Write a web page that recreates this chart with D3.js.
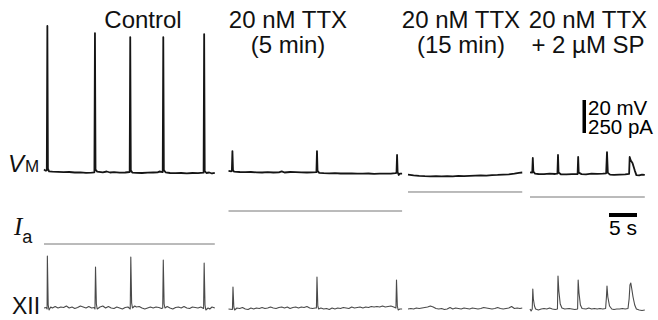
<!DOCTYPE html>
<html>
<head>
<meta charset="utf-8">
<script src="https://cdn.jsdelivr.net/npm/d3@7"></script>
<style>
  html, body { margin: 0; padding: 0; background: #fff; }
  svg { display: block; font-family: 'Liberation Sans', Arial, sans-serif; }
</style>
</head>
<body>
<div id="chart"></div>
<script>
// condition labels (one or two lines each)
const panelTitles = [
  ['Control'],
  ['20 nM TTX', '(5 min)'],
  ['20 nM TTX', '(15 min)'],
  ['20 nM TTX', '+ 2 \u00b5M SP'],
];

// sweep lengths, seconds
const panelDurations = [30.5, 31, 20.4, 20.5];

// holding current (Ia) per condition, pA relative to control
const holdingCurrent = [0, 250, 394, 356];

// membrane potential, [time s, mV]
const vmControl = [
  [0, -58.5], [0.3, -59.2], [0.5, -59.0], [0.6, 28.5], [0.7, -58.0], [0.9, -59.6],
  [1.5, -59.8], [2.5, -59.9], [3.5, -60.1], [4.5, -60.0], [5.5, -60.3], [6.5, -60.2],
  [7.5, -60.5], [8.5, -60.4], [9.0, -60.2], [9.1, 24.2], [9.2, -58.6], [9.5, -59.8],
  [10.5, -60.2], [11.2, -59.7], [11.8, -60.3], [12.5, -60.1], [13.5, -60.4], [14.5, -60.3],
  [15.3, -60.0], [15.4, 21.8], [15.5, -59.0], [15.8, -60.4], [16.5, -60.5], [17.5, -60.6],
  [18.5, -60.4], [19.5, -60.3], [20.3, -60.2], [20.6, -59.7], [21.2, -60.1], [21.3, 21.8],
  [21.4, -58.8], [21.7, -60.2], [22.5, -60.6], [23.5, -60.7], [24.5, -60.6], [25.5, -60.8],
  [26.5, -60.6], [27.5, -60.7], [28.5, -60.4], [28.6, 23.6], [28.7, -59.4], [29.0, -60.6],
  [29.5, -60.3], [30.0, -60.9], [30.5, -60.5],
];

const vmTtx5 = [
  [0, -59.3], [0.5, -59.6], [0.6, -59.4], [0.7, -47.3], [0.8, -59.0], [1.0, -59.8],
  [2, -60.0], [3, -60.1], [4, -60.0], [5, -60.2], [6, -60.3], [7, -60.1], [8, -60.3],
  [9, -60.2], [9.5, -59.6], [10, -60.3], [11, -60.0], [12, -60.1], [13, -60.2], [14, -60.3],
  [15, -60.2], [15.7, -60.1], [15.8, -47.3], [15.9, -59.3], [16.2, -60.5], [17, -60.7],
  [18, -60.8], [19, -60.7], [20, -60.9], [21, -60.8], [22, -60.9], [23, -61.0], [24, -61.0],
  [25, -60.9], [26, -61.1], [27, -61.0], [28, -61.0], [29, -61.0], [29.8, -60.7],
  [30.0, -60.5], [30.1, -49.7], [30.2, -60.0], [30.4, -61.8], [30.6, -61.0], [31, -61.0],
];

const vmTtx15 = [
  [0, -61.6], [1, -62.0], [2, -62.3], [3, -62.5], [4, -62.6], [5, -62.5], [6, -62.7],
  [7, -62.5], [8, -62.6], [9, -62.4], [10, -62.5], [11, -62.3], [12, -62.2], [13, -62.1],
  [14, -62.2], [15, -61.9], [16, -61.8], [17, -61.6], [18, -61.4], [19, -61.0],
  [19.8, -60.5], [20.4, -60.3],
];

const vmTtxSp = [
  [0, -60.2], [0.4, -60.4], [0.5, -51.5], [0.6, -59.8], [0.9, -61.0], [1.5, -61.2],
  [2.5, -61.3], [3.5, -61.0], [4.5, -61.2], [4.9, -61.0], [5.0, -49.7], [5.1, -60.3],
  [5.5, -61.4], [6.5, -61.5], [7.5, -61.3], [8.5, -61.2], [8.6, -50.9], [8.7, -60.4],
  [9.2, -61.3], [10, -61.4], [11, -61.0], [12, -61.1], [13, -61.0], [13.6, -60.8],
  [13.75, -47.9], [13.9, -60.5], [14.3, -61.6], [15, -61.7], [16, -61.6], [17, -61.5],
  [17.7, -61.2], [17.8, -50.9], [18.0, -53.0], [18.3, -54.5], [18.7, -59.0], [19.0, -61.9],
  [19.5, -62.0], [20, -61.6], [20.5, -61.8],
];

// hypoglossal nerve (XII) integrated activity, [time s, a.u.]
const xiiControl = [
  [0, 1], [0.4, 1.5], [0.55, 0], [0.6, 53], [0.75, 4], [0.9, -1], [1.2, 2], [1.5, 1],
  [2, 2.5], [2.5, 1], [3, 2], [3.5, 1.5], [4, 3], [4.5, 1], [5, 2], [5.5, 0.5], [6, 1.5],
  [6.5, 3], [7, 2], [7.5, 1], [8, 2.5], [8.5, 1], [9, 1.5], [9.1, 0], [9.2, 42], [9.35, 5],
  [9.5, 0], [10, 2], [10.5, 3], [11, 1], [11.5, 2.5], [12, 1], [12.5, 0.5], [13, 2],
  [13.5, 1], [14, 0], [14.5, 1.5], [15, 2], [15.4, 0], [15.5, 52], [15.65, 6], [15.8, 1],
  [16.2, 3], [16.5, 2], [17, 2.5], [17.5, 1], [18, 0], [18.5, 1], [19, 2], [19.5, 1],
  [20, 2], [20.5, 1.5], [21, 0.5], [21.2, 1], [21.3, 49], [21.45, 5], [21.6, 1], [22, 2.5],
  [22.5, 1], [23, 0], [23.5, 1.5], [24, 2], [24.5, 1], [25, 2.5], [25.5, 1], [26, 0.5],
  [26.5, 2], [27, 1.5], [27.5, 1], [28, 2], [28.5, 0.5], [28.6, 46], [28.75, 4],
  [28.9, -1], [29.3, 1], [29.6, 0], [30, 2], [30.5, 1],
];

const xiiTtx5 = [
  [0, 0], [0.7, -0.5], [0.8, 22], [0.95, 2], [1.1, -1], [1.5, 1], [2, 0.5], [2.5, 1.5],
  [3, 0], [3.5, -0.5], [4, 1], [4.5, 0], [5, 1], [5.5, 0.5], [6, 1.5], [6.5, 0.5], [7, 1],
  [7.5, 2], [8, 1], [8.5, 0.5], [9, 1.5], [9.5, 2], [10, 1], [10.5, 2], [11, 0.5],
  [11.5, 1.5], [12, 2], [12.5, 1], [13, 2], [13.5, 1.5], [14, 2.5], [14.5, 1], [15, 0.5],
  [15.5, 1], [15.7, 1], [15.8, 32], [15.95, 3], [16.1, 0], [16.5, 1], [17, 0], [17.5, 0.5],
  [18, -0.5], [18.5, 1], [19, 0], [19.5, 1], [20, 0.5], [20.5, 1.5], [21, 1], [21.5, 0.5],
  [22, 2], [22.5, 1], [23, 1.5], [23.5, 2], [24, 1], [24.5, 2], [25, 1.5], [25.5, 2.5],
  [26, 2], [26.5, 2.5], [27, 2], [27.5, 3], [28, 2], [28.5, 2.5], [29, 3], [29.5, 2],
  [29.9, 1], [30.0, 29], [30.15, 3], [30.3, -1], [30.6, 0], [31, 0],
];

const xiiTtx15 = [
  [0, 0], [0.5, 0.5], [1, 0], [1.5, 1], [2, 0.5], [2.5, 1], [3, 1.5], [3.5, 2], [4, 3],
  [4.5, 2], [5, 0.5], [5.5, 0], [6, 0.5], [6.5, -0.5], [7, 0], [7.5, 1.5], [8, 0],
  [8.5, 1], [9, 0.5], [9.5, 0], [10, 1], [10.5, 0.5], [11, 0], [11.5, 1], [12, 0.5],
  [12.5, 0], [13, 0.5], [13.5, 1.5], [14, 1], [14.5, 0.5], [15, 0], [15.5, 0.5],
  [16, 1.5], [16.5, 0.5], [17, 0], [17.5, 0.5], [18, 1], [18.5, 2.5], [19, 0.5],
  [19.5, 1], [20, 0.5], [20.4, 1],
];

const xiiTtxSp = [
  [0, 0], [0.2, -2], [0.4, 0], [0.5, 20], [0.6, 10], [0.8, 3], [1.0, 0], [1.5, -1],
  [2, 0], [2.5, 0.5], [3, 0], [3.5, 1], [4, 0], [4.5, -0.5], [4.9, 0], [5.0, 33],
  [5.15, 18], [5.4, 5], [5.7, 1], [6.2, 0], [7, 0.5], [7.5, 0], [8, -0.5], [8.5, 0],
  [8.6, 29], [8.75, 16], [9.0, 4], [9.3, 0.5], [10, 0], [10.5, 1], [11, 0], [11.5, 0.5],
  [12, 0], [12.5, 0.5], [13, 0], [13.5, 0.5], [13.65, 12], [13.75, 23], [13.9, 12],
  [14.2, 3], [14.6, 0], [15, -0.5], [15.5, 0], [16, 0], [16.5, 0.5], [17, 0], [17.5, 0.5],
  [17.7, 10], [17.85, 24], [18.0, 26], [18.15, 21], [18.4, 12], [18.7, 4], [19.0, 0],
  [19.5, -1], [20, -1.5], [20.5, -1],
];

const vmTraces = [vmControl, vmTtx5, vmTtx15, vmTtxSp];
const xiiTraces = [xiiControl, xiiTtx5, xiiTtx15, xiiTtxSp];

// layout
const width = 658;
const height = 320;
const panelLeft = [44, 228.5, 408, 530];
const titleX = [143, 288, 461, 588];
const pxPerSec = 5.6;

const svg = d3
  .select('#chart')
  .append('svg')
  .attr('width', width)
  .attr('height', height)
  .attr('viewBox', `0 0 ${width} ${height}`);

const yVm = d3.scaleLinear().domain([-60, -40]).range([172, 139]);
const yIa = d3.scaleLinear().domain([0, 250]).range([244, 211]);
const yXii = d3.scaleLinear().domain([0, 50]).range([309, 259]);

const xScales = panelDurations.map((dur, i) =>
  d3.scaleLinear().domain([0, dur]).range([panelLeft[i], panelLeft[i] + dur * pxPerSec])
);

panelDurations.forEach((dur, i) => {
  const x = xScales[i];
  const g = svg.append('g').attr('class', 'panel');

  // title
  const title = g
    .append('text')
    .attr('text-anchor', 'middle')
    .attr('font-size', 24)
    .attr('fill', '#111');
  panelTitles[i].forEach((line, j) => {
    title
      .append('tspan')
      .attr('x', titleX[i])
      .attr('y', 28 + j * 25)
      .text(line);
  });

  const vmLine = d3.line().x((d) => x(d[0])).y((d) => yVm(d[1]));
  g.append('path')
    .attr('d', vmLine(vmTraces[i]))
    .attr('fill', 'none')
    .attr('stroke', '#151515')
    .attr('stroke-width', 1.8)
    .attr('stroke-linejoin', 'round');

  g.append('line')
    .attr('x1', x(0))
    .attr('x2', x(dur))
    .attr('y1', yIa(holdingCurrent[i]))
    .attr('y2', yIa(holdingCurrent[i]))
    .attr('stroke', '#777')
    .attr('stroke-width', 1);

  const xiiLine = d3.line().x((d) => x(d[0])).y((d) => yXii(d[1]));
  g.append('path')
    .attr('d', xiiLine(xiiTraces[i]))
    .attr('fill', 'none')
    .attr('stroke', '#4a4a4a')
    .attr('stroke-width', 1.1)
    .attr('stroke-linejoin', 'round');
});

// row labels
const vmLabel = svg.append('text').attr('x', 8).attr('y', 172).attr('fill', '#111');
vmLabel.append('tspan').attr('font-size', 24).attr('font-style', 'italic').text('V');
vmLabel.append('tspan').attr('font-size', 17).attr('dx', 1).text('M');

const iaLabel = svg.append('text').attr('x', 14).attr('y', 235).attr('fill', '#111');
iaLabel
  .append('tspan')
  .attr('font-family', "'Liberation Serif', 'Times New Roman', serif")
  .attr('font-size', 25)
  .attr('font-style', 'italic')
  .text('I');
iaLabel.append('tspan').attr('font-size', 18).attr('dy', 8).text('a');

svg.append('text')
  .attr('x', 12)
  .attr('y', 314)
  .attr('font-size', 23)
  .attr('fill', '#111')
  .text('XII');

// scale bars
const vBarTop = 100;
svg.append('rect')
  .attr('x', 582.5)
  .attr('y', vBarTop)
  .attr('width', 3.5)
  .attr('height', yVm(-60) - yVm(-40))
  .attr('fill', '#000');

svg.append('text').attr('x', 588).attr('y', 115).attr('font-size', 20.5).text('20 mV');
svg.append('text').attr('x', 588).attr('y', 134).attr('font-size', 20.5).text('250 pA');

const hBarLeft = 609;
svg.append('rect')
  .attr('x', hBarLeft)
  .attr('y', 213)
  .attr('width', 5 * pxPerSec)
  .attr('height', 4)
  .attr('fill', '#000');

svg.append('text')
  .attr('x', hBarLeft + (5 * pxPerSec) / 2)
  .attr('y', 235)
  .attr('text-anchor', 'middle')
  .attr('font-size', 21)
  .text('5 s');
</script>
</body>
</html>
